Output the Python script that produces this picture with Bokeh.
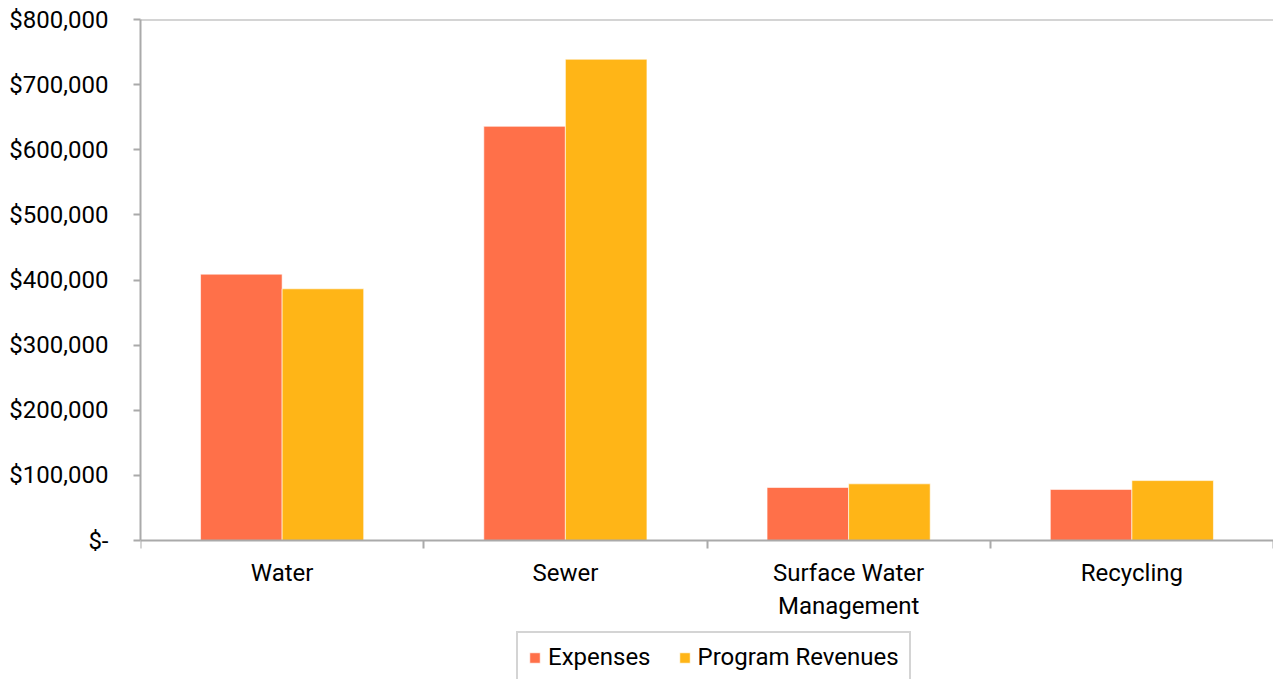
from bokeh.plotting import figure
from bokeh.models import (Range1d, FixedTicker, Legend, LegendItem,
                          ColumnDataSource, Span, CustomJSTickFormatter)
from bokeh.embed import file_html
from bokeh.resources import INLINE

categories = ["Water", "Sewer", "Surface Water\nManagement", "Recycling"]
expenses = [409000, 636000, 81500, 78500]
revenues = [386500, 739000, 87000, 92000]
y_ticks = [0, 100000, 200000, 300000, 400000, 500000, 600000, 700000, 800000]

EXP_COLOR = "#FF7049"
REV_COLOR = "#FFB517"
AXIS_COLOR = "#AAAAAA"
FONT = "Roboto"
FS = "24px"

Y_MAX = 800000
PLOT_PX = 521      # pixels from 0 to Y_MAX
BELOW_PX = 139     # pixels below the zero line (labels + legend)
y_min = -Y_MAX * BELOW_PX / PLOT_PX

n = len(categories)
centers = [i + 0.5 for i in range(n)]
bw = 0.288
src = ColumnDataSource(dict(
    x_exp=[c - bw / 2 for c in centers],
    x_rev=[c + bw / 2 for c in centers],
    exp=expenses, rev=revenues,
))

p = figure(width=1273, height=679, output_backend="svg", toolbar_location=None,
           x_range=Range1d(0, n), y_range=Range1d(y_min, Y_MAX),
           min_border_left=140, min_border_right=0, min_border_top=19, min_border_bottom=0)
p.outline_line_color = None
p.xgrid.visible = False
p.ygrid.visible = False

r1 = p.vbar(x="x_exp", top="exp", width=bw, source=src, fill_color=EXP_COLOR,
            line_color="white", line_width=1, line_alpha=0.6)
r2 = p.vbar(x="x_rev", top="rev", width=bw, source=src, fill_color=REV_COLOR,
            line_color="white", line_width=1, line_alpha=0.6)

# top gridline
p.add_layout(Span(location=Y_MAX, dimension="width", line_color=AXIS_COLOR, line_width=2))

# x axis, drawn at y = 0
xa = p.xaxis[0]
xa.fixed_location = 0
xa.ticker = FixedTicker(ticks=centers, minor_ticks=list(range(n + 1)))
xa.major_label_overrides = {c: lab for c, lab in zip(centers, categories)}
xa.major_tick_out = 0
xa.major_tick_in = 0
xa.minor_tick_out = 8
xa.minor_tick_in = 0
xa.minor_tick_line_color = AXIS_COLOR
xa.minor_tick_line_width = 2
xa.axis_line_color = AXIS_COLOR
xa.axis_line_width = 2
xa.major_label_text_font = FONT
xa.major_label_text_font_size = FS
xa.major_label_text_color = "#000000"
xa.major_label_standoff = 10

# y axis
ya = p.yaxis[0]
ya.bounds = (0, Y_MAX)
ya.ticker = FixedTicker(ticks=y_ticks, minor_ticks=[])
ya.formatter = CustomJSTickFormatter(code="""
    if (tick == 0) { return "$-"; }
    return "$" + Math.round(tick).toString().replace(/\\B(?=(\\d{3})+(?!\\d))/g, ",");
""")
ya.major_tick_out = 7
ya.major_tick_in = 0
ya.major_tick_line_color = AXIS_COLOR
ya.major_tick_line_width = 2
ya.minor_tick_line_color = None
ya.axis_line_color = AXIS_COLOR
ya.axis_line_width = 2
ya.major_label_text_font = FONT
ya.major_label_text_font_size = FS
ya.major_label_text_color = "#000000"
ya.major_label_standoff = 25

legend = Legend(items=[LegendItem(label="Expenses", renderers=[r1]),
                       LegendItem(label="Program Revenues", renderers=[r2])],
                orientation="horizontal", location=(376, -4))
legend.label_text_font = FONT
legend.label_text_font_size = FS
legend.label_text_color = "#000000"
legend.glyph_width = 13
legend.glyph_height = 13
legend.label_standoff = 7
legend.spacing = 27
legend.padding = 10
legend.margin = 0
legend.border_line_color = AXIS_COLOR
legend.border_line_width = 2
legend.background_fill_alpha = 1
p.add_layout(legend, "center")

open("out.html", "w").write(file_html(p, INLINE))
